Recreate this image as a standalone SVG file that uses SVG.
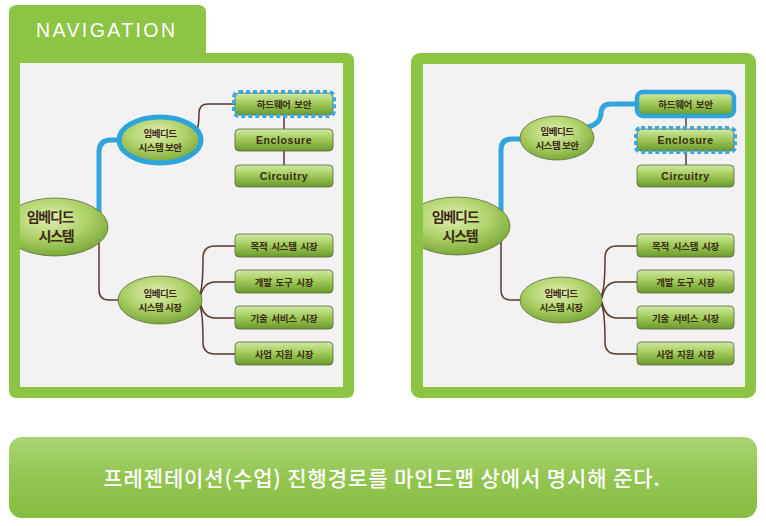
<svg xmlns="http://www.w3.org/2000/svg" width="766" height="526" viewBox="0 0 766 526">
<defs>
<linearGradient id="boxg" x1="0" y1="0" x2="0" y2="1">
<stop offset="0" stop-color="#d2e8a4"/>
<stop offset="0.45" stop-color="#a3cc5c"/>
<stop offset="1" stop-color="#6a9a2a"/>
</linearGradient>
<radialGradient id="ellg" cx="0.45" cy="0.35" r="0.7">
<stop offset="0" stop-color="#e2eeb2"/>
<stop offset="0.5" stop-color="#b0d26a"/>
<stop offset="1" stop-color="#72a330"/>
</radialGradient>
<linearGradient id="barg" x1="0" y1="0" x2="0" y2="1">
<stop offset="0" stop-color="#aad474"/>
<stop offset="0.5" stop-color="#93c651"/>
<stop offset="1" stop-color="#86bc42"/>
</linearGradient>
<clipPath id="clipL"><rect x="20" y="63" width="323" height="324"/></clipPath>
<clipPath id="clipR"><rect x="423" y="64" width="322" height="323"/></clipPath>
<style>
.panel{fill:#8cc443}
.inner{fill:#f2f2f2}
.box{fill:url(#boxg);stroke:#55653c;stroke-width:0.8}
.ell{fill:url(#ellg);stroke:#5e6e40;stroke-width:0.8}
.brown{fill:none;stroke:#5a3a2c;stroke-width:1.5}
.blue{fill:none;stroke:#32a6dc;stroke-width:5;stroke-linecap:round}
.dash{fill:none;stroke:#3aa9e0;stroke-width:4;stroke-dasharray:4 3}
.solidsel{fill:none;stroke:#2ea4dc;stroke-width:4.5}
.t{font-family:"Noto Sans CJK KR","Liberation Sans",sans-serif;font-weight:bold;fill:#3b2a14;text-anchor:middle;dominant-baseline:central}
.tb{font-size:9.5px;letter-spacing:-0.3px;word-spacing:2px}
.te{font-family:"Liberation Sans",sans-serif;font-size:10.5px;letter-spacing:0.6px}
.ts{font-size:9.5px;letter-spacing:-0.5px}
.tr{font-size:14px;letter-spacing:-1.2px}
</style>
</defs>

<!-- left panel -->
<g id="panel-left">
<path class="panel" d="M9 13 Q9 5 17 5 L198 5 Q206 5 206 13 L206 53 L346 53 Q354 53 354 61 L354 390 Q354 398 346 398 L17 398 Q9 398 9 390 Z"/>
<rect class="inner" x="20" y="63" width="323" height="324"/>
<text x="36" y="30" font-family="Liberation Sans,sans-serif" font-size="19.5" letter-spacing="2.4" fill="#ffffff" dominant-baseline="central">NAVIGATION</text>
</g>

<!-- right panel -->
<g id="panel-right">
<rect class="panel" x="411" y="53" width="345" height="345" rx="9"/>
<rect class="inner" x="423" y="64" width="322" height="323"/>
</g>

<!-- connectors -->
<g id="connectors">
<g clip-path="url(#clipL)">
<path class="blue" d="M99 212 L99 152 Q99 140 111 140 L120 140"/>
<path class="brown" d="M197 130 Q199 125 199 113 Q199 104 208 104 L235 104"/>
<path class="brown" d="M284 104 L284 176"/>
<path class="brown" d="M99 240 L99 290 Q99 300 109 300 L119 300"/>
<path class="brown" d="M199 296 C203 290 203 270 203 258 Q203 246 215 246 L235 246"/>
<path class="brown" d="M200 298 C202 288 206 282 215 282 L235 282"/>
<path class="brown" d="M200 302 C202 312 206 318 215 318 L235 318"/>
<path class="brown" d="M199 304 C203 310 203 330 203 342 Q203 354 215 354 L235 354"/>
</g>
<g clip-path="url(#clipR)">
<path class="blue" d="M501 212 L501 150 Q501 139 512 139 L522 139"/>
<path class="blue" d="M588 127 Q600 124 601 114 Q601 104 611 104 L637 104"/>
<path class="brown" d="M686 104 L686 176"/>
<path class="brown" d="M501 240 L501 290 Q501 300 511 300 L521 300"/>
<path class="brown" d="M601 296 C605 290 605 270 605 258 Q605 246 617 246 L637 246"/>
<path class="brown" d="M602 298 C604 288 608 282 617 282 L637 282"/>
<path class="brown" d="M602 302 C604 312 608 318 617 318 L637 318"/>
<path class="brown" d="M601 304 C605 310 605 330 605 342 Q605 354 617 354 L637 354"/>
</g>
</g>

<!-- left nodes -->
<g id="L-root" clip-path="url(#clipL)">
<ellipse class="ell" cx="55" cy="227" rx="53" ry="29"/>
<text class="t tr" x="50" y="216">임베디드</text>
<text class="t tr" x="56" y="235">시스템</text>
</g>
<g id="L-sec">
<ellipse class="ell" cx="160" cy="140" rx="41" ry="23"/>
<ellipse cx="160" cy="140" rx="41" ry="23" fill="none" stroke="#2ea4dc" stroke-width="5"/>
<text class="t ts" x="160" y="133">임베디드</text>
<text class="t ts" x="160" y="147">시스템 보안</text>
</g>
<g id="L-hw">
<rect class="box" x="235" y="93" width="98" height="22" rx="4"/>
<rect class="dash" x="234" y="92" width="100" height="24" rx="5"/>
<text class="t tb" x="284" y="104">하드웨어 보안</text>
</g>
<g id="L-enc">
<rect class="box" x="235" y="129" width="98" height="22" rx="4"/>
<text class="t te" x="284" y="140">Enclosure</text>
</g>
<g id="L-cir">
<rect class="box" x="235" y="165" width="98" height="22" rx="4"/>
<text class="t te" x="284" y="176">Circuitry</text>
</g>
<g id="L-mkt">
<ellipse class="ell" cx="160" cy="300" rx="42" ry="24"/>
<text class="t ts" x="160" y="293">임베디드</text>
<text class="t ts" x="160" y="307">시스템 시장</text>
</g>
<g id="L-m1">
<rect class="box" x="235" y="234" width="98" height="23" rx="4"/>
<text class="t tb" x="284" y="245.5">목적 시스템 시장</text>
</g>
<g id="L-m2">
<rect class="box" x="235" y="270" width="98" height="23" rx="4"/>
<text class="t tb" x="284" y="281.5">개발 도구 시장</text>
</g>
<g id="L-m3">
<rect class="box" x="235" y="306" width="98" height="23" rx="4"/>
<text class="t tb" x="284" y="317.5">기술 서비스 시장</text>
</g>
<g id="L-m4">
<rect class="box" x="235" y="342" width="98" height="23" rx="4"/>
<text class="t tb" x="284" y="353.5">사업 지원 시장</text>
</g>

<!-- right nodes -->
<g id="R-root" clip-path="url(#clipR)">
<ellipse class="ell" cx="457" cy="226" rx="53" ry="29"/>
<text class="t tr" x="455" y="216">임베디드</text>
<text class="t tr" x="460" y="235">시스템</text>
</g>
<g id="R-sec">
<ellipse class="ell" cx="557" cy="138" rx="37" ry="22"/>
<text class="t ts" x="557" y="131">임베디드</text>
<text class="t ts" x="557" y="145">시스템 보안</text>
</g>
<g id="R-hw">
<rect class="box" x="638" y="93" width="95" height="22" rx="4"/>
<rect class="solidsel" x="637" y="92" width="97" height="24" rx="6"/>
<text class="t tb" x="685.5" y="104">하드웨어 보안</text>
</g>
<g id="R-enc">
<rect class="box" x="637" y="129" width="97" height="22" rx="4"/>
<rect class="dash" x="636" y="128" width="99" height="24" rx="5"/>
<text class="t te" x="685.5" y="140">Enclosure</text>
</g>
<g id="R-cir">
<rect class="box" x="637" y="165" width="97" height="22" rx="4"/>
<text class="t te" x="685.5" y="176">Circuitry</text>
</g>
<g id="R-mkt">
<ellipse class="ell" cx="561" cy="300" rx="41" ry="23"/>
<text class="t ts" x="561" y="293">임베디드</text>
<text class="t ts" x="561" y="307">시스템 시장</text>
</g>
<g id="R-m1">
<rect class="box" x="637" y="234" width="97" height="23" rx="4"/>
<text class="t tb" x="685.5" y="245.5">목적 시스템 시장</text>
</g>
<g id="R-m2">
<rect class="box" x="637" y="270" width="97" height="23" rx="4"/>
<text class="t tb" x="685.5" y="281.5">개발 도구 시장</text>
</g>
<g id="R-m3">
<rect class="box" x="637" y="306" width="97" height="23" rx="4"/>
<text class="t tb" x="685.5" y="317.5">기술 서비스 시장</text>
</g>
<g id="R-m4">
<rect class="box" x="637" y="342" width="97" height="23" rx="4"/>
<text class="t tb" x="685.5" y="353.5">사업 지원 시장</text>
</g>

<!-- bottom bar -->
<g id="caption">
<rect x="9" y="437" width="748" height="81" rx="13" fill="url(#barg)"/>
<text x="382" y="477" font-family="Noto Sans CJK KR,sans-serif" font-size="21" font-weight="500" letter-spacing="0.9" fill="#ffffff" text-anchor="middle" dominant-baseline="central">프레젠테이션(수업) 진행경로를 마인드맵 상에서 명시해 준다.</text>
</g>
</svg>
